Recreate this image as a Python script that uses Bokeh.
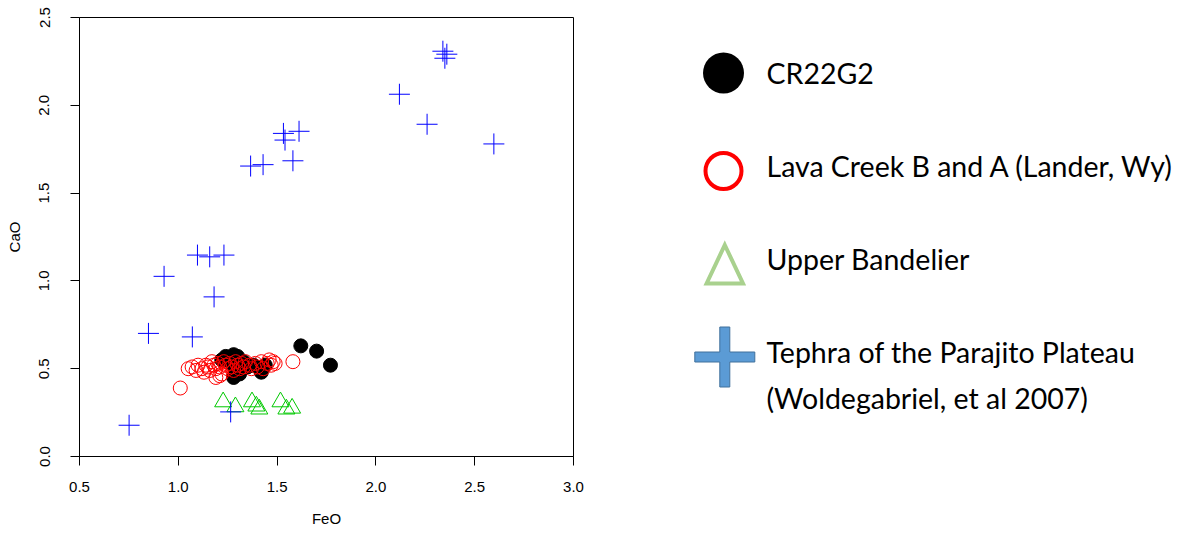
from bokeh.plotting import figure
from bokeh.layouts import row
from bokeh.models import Range1d, FixedTicker
from bokeh.core.properties import value
from bokeh.embed import file_html
from bokeh.resources import INLINE

# ---- data: FeO vs CaO (wt%) ----
cr22g2_feo = [1.22, 1.24, 1.26, 1.28, 1.30, 1.27, 1.29, 1.28, 1.31, 1.33, 1.35, 1.38,
              1.41, 1.42, 1.44, 1.62, 1.70, 1.77]
cr22g2_cao = [0.55, 0.57, 0.56, 0.58, 0.57, 0.53, 0.49, 0.45, 0.47, 0.54, 0.51, 0.52,
              0.50, 0.48, 0.52, 0.63, 0.60, 0.52]

lava_feo = [1.05, 1.07, 1.09, 1.10, 1.12, 1.13, 1.14, 1.15, 1.16, 1.17, 1.18, 1.19,
            1.20, 1.21, 1.22, 1.23, 1.24, 1.25, 1.26, 1.27, 1.28, 1.29, 1.30, 1.31,
            1.32, 1.33, 1.34, 1.36, 1.37, 1.39, 1.40, 1.42, 1.43, 1.45, 1.46, 1.47,
            1.48, 1.49, 1.19, 1.21, 1.01, 1.58]
lava_cao = [0.50, 0.51, 0.49, 0.52, 0.50, 0.48, 0.52, 0.51, 0.49, 0.54, 0.52, 0.50,
            0.53, 0.51, 0.47, 0.54, 0.52, 0.50, 0.53, 0.51, 0.49, 0.54, 0.52, 0.50,
            0.53, 0.51, 0.54, 0.52, 0.50, 0.53, 0.51, 0.54, 0.50, 0.53, 0.55, 0.52,
            0.54, 0.53, 0.45, 0.46, 0.39, 0.54]

bandelier_feo = [1.227, 1.289, 1.373, 1.395, 1.410, 1.517, 1.547, 1.576]
bandelier_cao = [0.311, 0.283, 0.311, 0.287, 0.270, 0.311, 0.270, 0.275]

tephra_feo = [0.751, 0.849, 0.928, 1.071, 1.097, 1.159, 1.231, 1.181, 1.265, 1.366,
              1.429, 1.532, 1.540, 1.611, 1.580, 2.119, 2.259, 2.597, 2.339, 2.359,
              2.349]
tephra_cao = [0.178, 0.701, 1.026, 0.681, 1.147, 1.137, 1.147, 0.909, 0.254, 1.654,
              1.662, 1.840, 1.802, 1.852, 1.684, 2.063, 1.892, 1.780, 2.308, 2.291,
              2.268]

x_ticks = [0.5, 1.0, 1.5, 2.0, 2.5, 3.0]
x_tick_labels = ["0.5", "1.0", "1.5", "2.0", "2.5", "3.0"]
y_ticks = [0.0, 0.5, 1.0, 1.5, 2.0, 2.5]
y_tick_labels = ["0.0", "0.5", "1.0", "1.5", "2.0", "2.5"]

legend_labels = ["CR22G2", "Lava Creek B and A (Lander, Wy)", "Upper Bandelier",
                 "Tephra of the Parajito Plateau", "(Woldegabriel, et al 2007)"]

AXIS_FONT = "Liberation Sans"
PAGE_H = 536
BORDER_TOP, BORDER_BOTTOM = 17, 80

# ---- scatter plot ----
p = figure(width=600, height=PAGE_H, output_backend="svg", toolbar_location=None,
           x_range=Range1d(0.5, 3.0), y_range=Range1d(0.0, 2.5),
           min_border_left=79, min_border_right=27, min_border_top=BORDER_TOP,
           min_border_bottom=BORDER_BOTTOM)
p.grid.visible = False
p.outline_line_color = "black"
p.outline_line_width = 1
p.background_fill_color = "white"
p.border_fill_color = "white"

p.xaxis.ticker = FixedTicker(ticks=x_ticks)
p.xaxis.major_label_overrides = dict(zip(x_ticks, x_tick_labels))
p.yaxis.ticker = FixedTicker(ticks=y_ticks)
p.yaxis.major_label_overrides = dict(zip(y_ticks, y_tick_labels))
p.yaxis.major_label_orientation = "parallel"
p.xaxis.axis_label = "FeO"
p.yaxis.axis_label = "CaO"
for ax in (p.xaxis, p.yaxis):
    ax.axis_line_color = "black"
    ax.major_tick_line_color = "black"
    ax.major_tick_out = 9
    ax.major_tick_in = 0
    ax.minor_tick_line_color = None
    ax.major_label_text_font = AXIS_FONT
    ax.major_label_text_font_size = "15px"
    ax.major_label_text_color = "black"
    ax.axis_label_text_font = AXIS_FONT
    ax.axis_label_text_font_size = "15px"
    ax.axis_label_text_font_style = "normal"
    ax.axis_label_text_color = "black"
p.xaxis.major_label_standoff = 16
p.xaxis.axis_label_standoff = 15
p.yaxis.major_label_standoff = 21
p.yaxis.axis_label_standoff = 14

p.scatter(cr22g2_feo, cr22g2_cao, marker="circle", size=14,
          fill_color="black", line_color="black", line_width=1)
p.scatter(lava_feo, lava_cao, marker="circle", size=14,
          fill_color=None, line_color="#ff0000", line_width=1)
p.scatter(bandelier_feo, bandelier_cao, marker="triangle", size=17,
          fill_color=None, line_color="#00c800", line_width=1)
p.scatter(tephra_feo, tephra_cao, marker="cross", size=21,
          line_color="#0000ff", line_width=1)

# ---- legend panel: frame aligned with the plot's frame, 1 unit = 1 pixel ----
leg = figure(width=580, height=PAGE_H, output_backend="svg", toolbar_location=None,
             x_range=Range1d(600, 1180),
             y_range=Range1d(BORDER_BOTTOM, PAGE_H - BORDER_TOP),
             x_axis_location=None, y_axis_location=None, title=None,
             min_border_left=0, min_border_right=0,
             min_border_top=BORDER_TOP, min_border_bottom=BORDER_BOTTOM,
             outline_line_color=None)
leg.grid.visible = False


def down(y):
    """Distance from the top of the page -> legend panel y coordinate."""
    return PAGE_H - y


sym_x = 723.0
row_y = [72.5, 170.5, 264.0, 356.5]

leg.scatter([sym_x], [down(row_y[0])], marker="circle", size=41,
            fill_color="black", line_color=None)
leg.scatter([sym_x], [down(row_y[1])], marker="circle", size=36,
            fill_color=None, line_color="#ff0000", line_width=4)

tri_half_w, tri_top, tri_bot = 18.2, 244.5, 283.0
leg.patch([sym_x + 1.3, sym_x + 1.3 + tri_half_w, sym_x + 1.3 - tri_half_w],
          [down(tri_top), down(tri_bot), down(tri_bot)],
          fill_color=None, line_color="#a9d18e", line_width=4, line_join="miter")

cx, cy = sym_x + 1.3, row_y[3]
arm, half = 30.0, 5.0
cross_x = [cx - half, cx + half, cx + half, cx + arm, cx + arm, cx + half,
           cx + half, cx - half, cx - half, cx - arm, cx - arm, cx - half]
cross_y = [cy - arm, cy - arm, cy - half, cy - half, cy + half, cy + half,
           cy + arm, cy + arm, cy + half, cy + half, cy - half, cy - half]
leg.patch(cross_x, [down(v) for v in cross_y],
          fill_color="#5b9bd5", line_color="#41719c", line_width=1)

# label anchor rows (one line each; the last label wraps onto a second line)
text_x = 766
label_y = [72, 165, 258, 351, 397]
leg.text([text_x] * len(legend_labels), [down(b) for b in label_y],
         text=legend_labels, text_font=value("Lato"), text_font_size="28.5px",
         text_color="black", text_baseline="alphabetic", text_align="left")

layout = row(p, leg)
open("out.html", "w").write(file_html(layout, INLINE))
